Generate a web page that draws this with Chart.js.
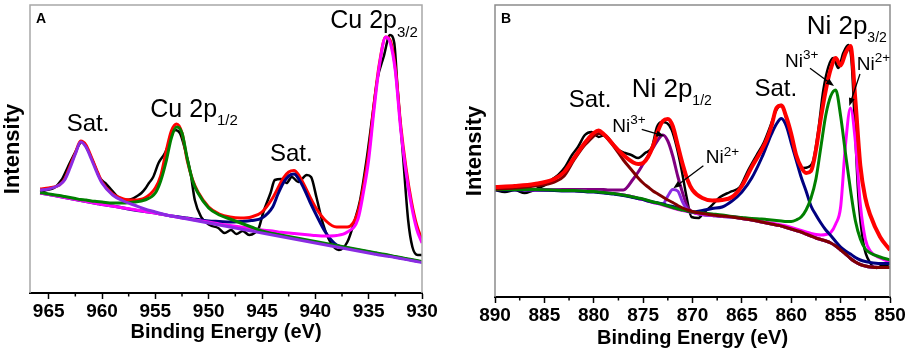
<!DOCTYPE html>
<html>
<head>
<meta charset="utf-8">
<title>XPS Cu 2p / Ni 2p</title>
<script src="https://cdn.jsdelivr.net/npm/chart.js@4.4.1/dist/chart.umd.min.js"></script>
<style>
  body { margin: 0; background: #fff; }
  #panelA { position: absolute; left: 0; top: 0; }
  #panelB { position: absolute; left: 455px; top: 0; }
</style>
</head>
<body>
<canvas id="panelA" width="455" height="352"></canvas>
<canvas id="panelB" width="454" height="352"></canvas>
<script>
// ===== panel A : Cu 2p (intensity in arbitrary units) =====
const energyA = [965.8, 965, 964, 963.5, 963, 962.5, 962, 961.5, 961, 960.5, 960, 959, 958, 957, 956, 955, 954.5, 954, 953.5, 953, 952.5, 952, 951.5, 951, 950, 949, 948, 947, 946, 945, 944, 943.5, 943, 942.5, 942, 941.5, 941, 940.5, 940, 939, 938, 937, 936, 935.5, 935, 934.5, 934, 933.4, 933, 932.5, 932, 931.5, 931, 930.5, 930];
const envelopeA = [104, 105, 108, 114, 127, 140, 152, 148, 136, 123, 111, 99, 94, 93, 95, 105, 117, 141, 162, 169, 160, 132, 113, 101, 86, 79, 76, 75, 76, 81, 95, 105, 115, 121, 122.5, 117, 107, 96, 86, 72, 66, 66, 81, 106, 140, 188, 229, 256, 253, 225, 168, 125, 92, 68, 53];
const satHighA = [103, 104, 108, 113, 125, 139, 151, 146, 134, 121, 110, 98, 92, 88, 84, 81, 79.5, 78, 77, 76, 75, 74, 73, 72, 70, 68, 66, 64, 62, 60, 58, 57, 56, 55, 54, 53, 52, 51, 50, 48, 46, 44, 42, 41, 40, 39, 38, 37, 36.5, 35.5, 34.5, 33.5, 32.5, 31.5, 30.5];
const cu2p12A = [100.5, 99, 97.5, 96.5, 95.5, 94.5, 93.5, 93, 92, 91.5, 91, 90, 90, 91, 93, 100, 112, 131, 155, 166, 160, 134, 112, 100, 85, 78, 74, 70, 66, 62, 59.5, 58.5, 57.5, 56.5, 55.5, 54.5, 53.5, 52.5, 51.5, 49.5, 47.5, 45.5, 43.5, 42.5, 41.5, 40.5, 39.5, 38.5, 37.5, 36.5, 35.5, 34.5, 33.5, 32.5, 31.5];
const satLowA = [100, 98.5, 96.5, 95.5, 94.5, 93.5, 92.5, 91.5, 90.5, 89.5, 88.5, 87, 85, 83, 81.5, 80, 79, 78, 77, 76.5, 75.5, 75, 74, 73.5, 72, 71.5, 71, 71.5, 72.5, 75, 86, 99, 110, 117, 119, 113, 103, 91, 80, 60, 48, 45, 43, 42, 41, 40, 39, 38, 37, 36, 35, 34, 33, 32, 31];
const cu2p32A = [100, 98.5, 96.5, 95.5, 94.5, 93.5, 92.5, 91.5, 90.5, 89.5, 88.5, 87, 85, 83.5, 81.5, 80, 79, 78, 77, 76, 75, 74.5, 73.5, 72.5, 71, 69, 67.5, 66, 64.5, 63, 62, 61, 60.5, 60, 59.5, 59, 58.5, 58, 57.5, 57, 57.5, 61, 74, 100, 133, 183, 227, 256, 251, 222, 164, 121, 88, 64, 50];
// measured spectrum
const rawEnergyA = [965.8, 965.2, 964.5, 963.8, 963.2, 962.5, 961.9, 961.2, 960.6, 960.2, 959.7, 959.1, 958.5, 957.8, 957.2, 956.7, 956.3, 955.9, 955.6, 955.2, 954.7, 954.1, 953.6, 953.2, 952.7, 952.2, 951.7, 951.3, 950.7, 949.9, 949.1, 948.5, 947.9, 947.4, 946.8, 946.2, 945.7, 945.3, 944.9, 944.2, 943.8, 943.2, 942.7, 942.2, 941.6, 940.8, 940.4, 939.9, 939.3, 938.6, 937.8, 937.0, 936.3, 935.8, 935.2, 934.7, 934.2, 933.6, 933.0, 932.6, 932.3, 931.8, 931.3, 930.9, 930.4, 930];
const rawCountsA = [101, 103, 105, 113, 126, 141, 151, 140, 125, 115, 110, 103, 96, 93, 94, 97, 100, 105, 110, 116, 130, 140, 153, 163, 160, 143, 120, 93, 76, 68, 65, 60, 63, 59, 62, 58, 60, 65, 80, 100, 113, 114, 110, 116, 111, 118, 116, 96, 70, 51, 43, 51, 73, 93, 133, 173, 213, 236, 258, 250, 206, 140, 73, 46, 38, 38];
const majorTicksA = [965, 960, 955, 950, 945, 940, 935, 930];
const minorTicksA = [962.5, 957.5, 952.5, 947.5, 942.5, 937.5, 932.5];

// ===== panel B : Ni 2p =====
const energyB = [890, 888, 886, 884, 883, 882, 881, 880.5, 880, 879.5, 879, 878.5, 878, 877, 876, 875.5, 875, 874.5, 874, 873.5, 873, 872.5, 872, 871.5, 871, 870.5, 870, 869, 868, 867, 866, 865, 864, 863, 862.5, 862, 861.5, 861, 860.5, 860, 859.5, 859, 858.5, 858, 857.5, 857, 856.5, 856, 855.5, 855, 854.5, 854, 853.5, 853, 852.5, 852, 851, 850];
const envelopeB = [110, 111, 113, 118, 125, 139, 153, 159, 164, 166.5, 163, 158, 152, 142, 134.5, 133, 134, 140, 151, 166, 176, 178, 171, 152, 133, 117, 107, 99, 96.5, 97, 100, 111, 130, 147, 157, 171, 189, 191.5, 180, 163, 142, 130, 124, 126, 147, 179, 207, 228, 239, 231.5, 244, 251, 196, 131, 99, 82, 60, 47];
const satHighB = [108, 109, 111, 115, 121, 137, 151, 156, 161, 163.5, 162, 157, 151, 137, 125, 119, 114, 110, 106, 103, 100, 97, 94.5, 91.5, 89, 87, 85.5, 83.5, 82, 81, 80, 78.5, 77, 75, 74, 73, 72, 71, 69.5, 68, 66.5, 65, 63, 61, 59, 57.5, 56, 54, 51, 47, 43, 38.5, 35, 32.5, 31, 30, 29.5, 29.5];
const ni3p12B = [107.5, 107.5, 107.5, 107.5, 107.5, 107.5, 107.5, 107.5, 107.5, 107.5, 107.5, 107, 107, 107, 118, 125, 133, 141, 149, 157, 162, 156, 141, 121, 104, 90, 85, 82.5, 81.5, 80.5, 80, 78.5, 77, 75, 74, 73, 72, 71, 69.5, 68, 66.5, 65, 63, 61, 59, 57.5, 56, 54, 51, 47, 43, 38.5, 35, 32.5, 31, 30, 29.5, 29.5];
const ni2p12B = [107.5, 107.5, 107, 107, 106.5, 106.5, 106, 105.5, 105.5, 105, 104.5, 104, 103.5, 102, 100, 98.5, 97.5, 96, 94.5, 93.5, 93, 101, 107.5, 106, 95, 87, 85, 82.5, 81.5, 80.5, 80, 78.5, 77, 75, 74, 73, 72, 71, 69.5, 68, 66.5, 65, 63, 61, 59, 57.5, 56, 54, 51, 47, 43, 38.5, 35, 32.5, 31, 30, 29.5, 29.5];
const satLowB = [107, 107, 107, 106.5, 106, 106, 105.5, 105, 105, 104.5, 104, 103.5, 103, 101.5, 99.5, 98.5, 97.5, 96, 95, 94, 93, 91.5, 90.5, 89, 88, 86, 85, 86.5, 88.5, 90, 96, 105, 119, 139, 151, 163, 173, 178.5, 171, 154, 137, 120, 106, 91, 82, 74, 67, 61.5, 55.5, 50, 46, 43, 39.5, 37, 35.5, 34.5, 33.5, 33.5];
const ni3p32B = [107.5, 107.5, 107.5, 107, 106.5, 106.5, 106, 105.5, 105.5, 105, 104.5, 104, 103.5, 102, 100, 99, 98, 96.5, 95, 94, 92.5, 91, 89.5, 88, 87, 86, 85, 84, 83, 82, 80.5, 79.5, 78.5, 78, 77.5, 77, 76.5, 76, 75.5, 75.5, 77, 80, 87, 99, 118, 150, 182, 201, 207, 181, 143, 107, 76, 58, 48, 44, 40, 37];
const ni2p32B = [107.5, 107.5, 107, 107, 106.5, 106.5, 106, 105.5, 105.5, 105, 104.5, 104, 103.5, 102, 100, 98.5, 97.5, 96, 94.5, 93.5, 92, 90.5, 89, 87.5, 86.5, 85.5, 84.5, 83, 82, 81, 80.5, 79, 77.5, 75.5, 74.5, 74, 73, 72, 71, 69.5, 68, 66.5, 65, 63.5, 62.5, 62, 62.5, 64.5, 73, 90, 153, 189, 155, 92, 58, 46, 39, 35];
// measured spectrum
const rawEnergyB = [890, 889, 888, 887, 886.3, 885.6, 884.9, 884.3, 883.6, 882.9, 882.2, 881.6, 880.9, 880.2, 879.5, 878.9, 878.2, 877.5, 876.8, 876.2, 875.5, 874.8, 874.1, 873.6, 873.1, 872.6, 872.1, 871.6, 871.1, 870.6, 870.1, 869.4, 868.9, 868.2, 867.2, 866.2, 865.2, 864.35, 863.5, 862.8, 862.15, 861.5, 861.0, 860.46, 859.96, 859.45, 858.78, 858.27, 857.76, 857.26, 856.75, 856.25, 855.74, 855.23, 854.73, 854.22, 853.88, 853.54, 853.2, 852.7, 852.0, 851.35, 850.7, 850];
const rawCountsB = [107, 105, 107, 104, 106, 109, 112, 117, 122, 130, 142, 150, 162, 165, 160, 162, 155, 147, 144, 142, 139, 144, 150, 170, 175, 174, 167, 150, 127, 100, 80, 79, 84, 90, 100, 105, 110, 127, 142, 154, 170, 187, 192, 177, 157, 137, 129, 130, 137, 167, 207, 230, 239, 229, 244, 252, 234, 167, 100, 54, 34, 29, 32, 30];
const majorTicksB = [890, 885, 880, 875, 870, 865, 860, 855, 850];
const minorTicksB = [887.5, 882.5, 877.5, 872.5, 867.5, 862.5, 857.5, 852.5];

const fontFamily = "'Liberation Sans', Arial, sans-serif";
Chart.defaults.font.family = fontFamily;
Chart.defaults.color = '#000';

// pair up energies and intensities for a linear x axis
function pts(xs, ys) {
  return xs.map((x, i) => ({ x: x, y: ys[i] }));
}

function curve(xs, ys, color, width, order) {
  return {
    data: pts(xs, ys),
    borderColor: color,
    borderWidth: width,
    pointRadius: 0,
    fill: false,
    cubicInterpolationMode: 'monotone',
    order: order
  };
}

// grey frame, minor ticks, panel letter, peak labels and arrows
const xpsDecor = {
  id: 'xpsDecor',
  afterDraw(chart, args, opts) {
    const ctx = chart.ctx;
    const area = chart.chartArea;
    const xs = chart.scales.x;
    const ys = chart.scales.y;
    ctx.save();

    ctx.strokeStyle = opts.frame;
    ctx.lineWidth = 1.5;
    ctx.beginPath();
    ctx.moveTo(area.left, area.bottom);
    ctx.lineTo(area.left, area.top);
    ctx.lineTo(area.right, area.top);
    ctx.lineTo(area.right, area.bottom);
    ctx.stroke();

    ctx.strokeStyle = '#000';
    ctx.lineWidth = 1.5;
    opts.minor.forEach(v => {
      const px = xs.getPixelForValue(v);
      ctx.beginPath();
      ctx.moveTo(px, area.bottom);
      ctx.lineTo(px, area.bottom + 3.5);
      ctx.stroke();
    });

    ctx.fillStyle = '#000';
    ctx.font = 'bold 14px ' + fontFamily;
    ctx.textAlign = 'center';
    ctx.textBaseline = 'middle';
    ctx.fillText(opts.letter, area.left + 11, area.top + 14);

    ctx.textBaseline = 'alphabetic';
    opts.labels.forEach(l => {
      const px = xs.getPixelForValue(l.e);
      const py = ys.getPixelForValue(l.v);
      ctx.font = l.size + 'px ' + fontFamily;
      ctx.textAlign = l.align || 'left';
      ctx.fillText(l.text, px, py);
      if (l.script) {
        const w = ctx.measureText(l.text).width;
        const start = l.align === 'center' ? px + w / 2 : px + w;
        ctx.font = l.scriptSize + 'px ' + fontFamily;
        ctx.textAlign = 'left';
        ctx.fillText(l.script, start, py + l.shift);
      }
    });

    ctx.lineWidth = 1.3;
    opts.arrows.forEach(a => {
      const x1 = xs.getPixelForValue(a[0]), y1 = ys.getPixelForValue(a[1]);
      const x2 = xs.getPixelForValue(a[2]), y2 = ys.getPixelForValue(a[3]);
      const ang = Math.atan2(y2 - y1, x2 - x1);
      const c = Math.cos(ang), s = Math.sin(ang);
      ctx.beginPath();
      ctx.moveTo(x1, y1);
      ctx.lineTo(x2 - 5 * c, y2 - 5 * s);
      ctx.stroke();
      ctx.beginPath();
      ctx.moveTo(x2, y2);
      ctx.lineTo(x2 - 8 * c + 3 * s, y2 - 8 * s - 3 * c);
      ctx.lineTo(x2 - 8 * c - 3 * s, y2 - 8 * s + 3 * c);
      ctx.closePath();
      ctx.fill();
    });
    ctx.restore();
  }
};

function panelOptions(p) {
  return {
    responsive: false,
    animation: false,
    devicePixelRatio: 1,
    layout: { padding: { top: 5, right: p.padRight, left: 0, bottom: 0 } },
    plugins: {
      legend: { display: false },
      tooltip: { enabled: false },
      xpsDecor: { minor: p.minor, letter: p.letter, labels: p.labels, arrows: p.arrows, frame: p.frame }
    },
    scales: {
      x: {
        type: 'linear',
        reverse: true,
        min: p.xMin,
        max: p.xMax,
        afterBuildTicks: s => { s.ticks = p.major.map(v => ({ value: v })); },
        afterFit: s => { s.height = p.axisHeight; },
        ticks: { font: { size: 19, weight: 'bold' }, padding: 1, maxRotation: 0, autoSkip: false, callback: v => String(v) },
        grid: { drawOnChartArea: false, drawTicks: true, tickLength: 6, tickWidth: 1.5, tickColor: '#000' },
        border: { display: true, color: '#000', width: 2 },
        title: { display: true, text: 'Binding Energy (eV)', font: { size: 20, weight: 'bold' }, padding: { top: 0, bottom: p.titlePad } }
      },
      y: {
        min: 0,
        max: p.yMax,
        afterFit: s => { s.width = p.axisWidth; },
        ticks: { display: false },
        grid: { display: false },
        border: { display: false },
        title: { display: true, text: 'Intensity', font: { size: 22, weight: 'bold' }, padding: { top: p.yTitlePad, bottom: 0 } }
      }
    }
  };
}

// panel A chart
new Chart(document.getElementById('panelA'), {
  type: 'line',
  data: {
    datasets: [
      curve(rawEnergyA, rawCountsA, '#000000', 2.5, 9),
      curve(energyA, envelopeA, '#ff0000', 3, 8),
      curve(energyA, satLowA, '#000080', 3, 7),
      curve(energyA, cu2p32A, '#ff00ff', 3, 6),
      curve(energyA, cu2p12A, '#008000', 3, 5),
      curve(energyA, satHighA, '#8a2be2', 3, 4)
    ]
  },
  options: panelOptions({
    xMin: 930, xMax: 966.75, yMax: 288,
    padRight: 33, axisHeight: 59, axisWidth: 30, titlePad: 8, yTitlePad: 0,
    major: majorTicksA, minor: minorTicksA, letter: 'A', frame: '#a8a8a8',
    labels: [
      { text: 'Sat.', e: 961.31, v: 162, size: 24, align: 'center' },
      { text: 'Cu 2p', script: '1/2', e: 955.47, v: 176, size: 25, scriptSize: 15, shift: 8 },
      { text: 'Sat.', e: 942.25, v: 132.5, size: 24, align: 'center' },
      { text: 'Cu 2p', script: '3/2', e: 938.6, v: 265, size: 25, scriptSize: 15, shift: 9 }
    ],
    arrows: []
  }),
  plugins: [xpsDecor]
});

// panel B chart
new Chart(document.getElementById('panelB'), {
  type: 'line',
  data: {
    datasets: [
      curve(rawEnergyB, rawCountsB, '#000000', 2.5, 9),
      curve(energyB, ni3p12B, '#800080', 3, 8),
      curve(energyB, ni2p12B, '#8a2be2', 3, 7),
      curve(energyB, ni2p32B, '#ff00ff', 3, 6),
      curve(energyB, satLowB, '#000080', 3, 5),
      curve(energyB, ni3p32B, '#008000', 3, 4),
      curve(energyB, satHighB, '#800000', 3, 3),
      curve(energyB, envelopeB, '#ff0000', 4, 1)
    ]
  },
  options: panelOptions({
    xMin: 850, xMax: 890, yMax: 292,
    padRight: 19, axisHeight: 55, axisWidth: 40, titlePad: 2, yTitlePad: 7,
    major: majorTicksB, minor: minorTicksB, letter: 'B', frame: '#8c8c8c',
    labels: [
      { text: 'Sat.', e: 880.38, v: 190, size: 24, align: 'center' },
      { text: 'Ni 2p', script: '1/2', e: 876.16, v: 200, size: 26, scriptSize: 14, shift: 8 },
      { text: 'Ni', script: '3+', e: 878.12, v: 165, size: 19, scriptSize: 13.5, shift: -8 },
      { text: 'Ni', script: '2+', e: 868.66, v: 134, size: 19, scriptSize: 13.5, shift: -7 },
      { text: 'Sat.', e: 861.57, v: 201.5, size: 24, align: 'center' },
      { text: 'Ni 2p', script: '3/2', e: 858.44, v: 263.4, size: 26, scriptSize: 14, shift: 8 },
      { text: 'Ni', script: '3+', e: 860.63, v: 230, size: 19, scriptSize: 13.5, shift: -8 },
      { text: 'Ni', script: '2+', e: 853.37, v: 226.7, size: 19, scriptSize: 13.5, shift: -8 }
    ],
    arrows: [
      [875.14, 167.7, 872.85, 161],
      [868.9, 131.3, 871.94, 108.7],
      [858.1, 228.7, 855.67, 211],
      [853.04, 223, 854.12, 191]
    ]
  }),
  plugins: [xpsDecor]
});
</script>
</body>
</html>
